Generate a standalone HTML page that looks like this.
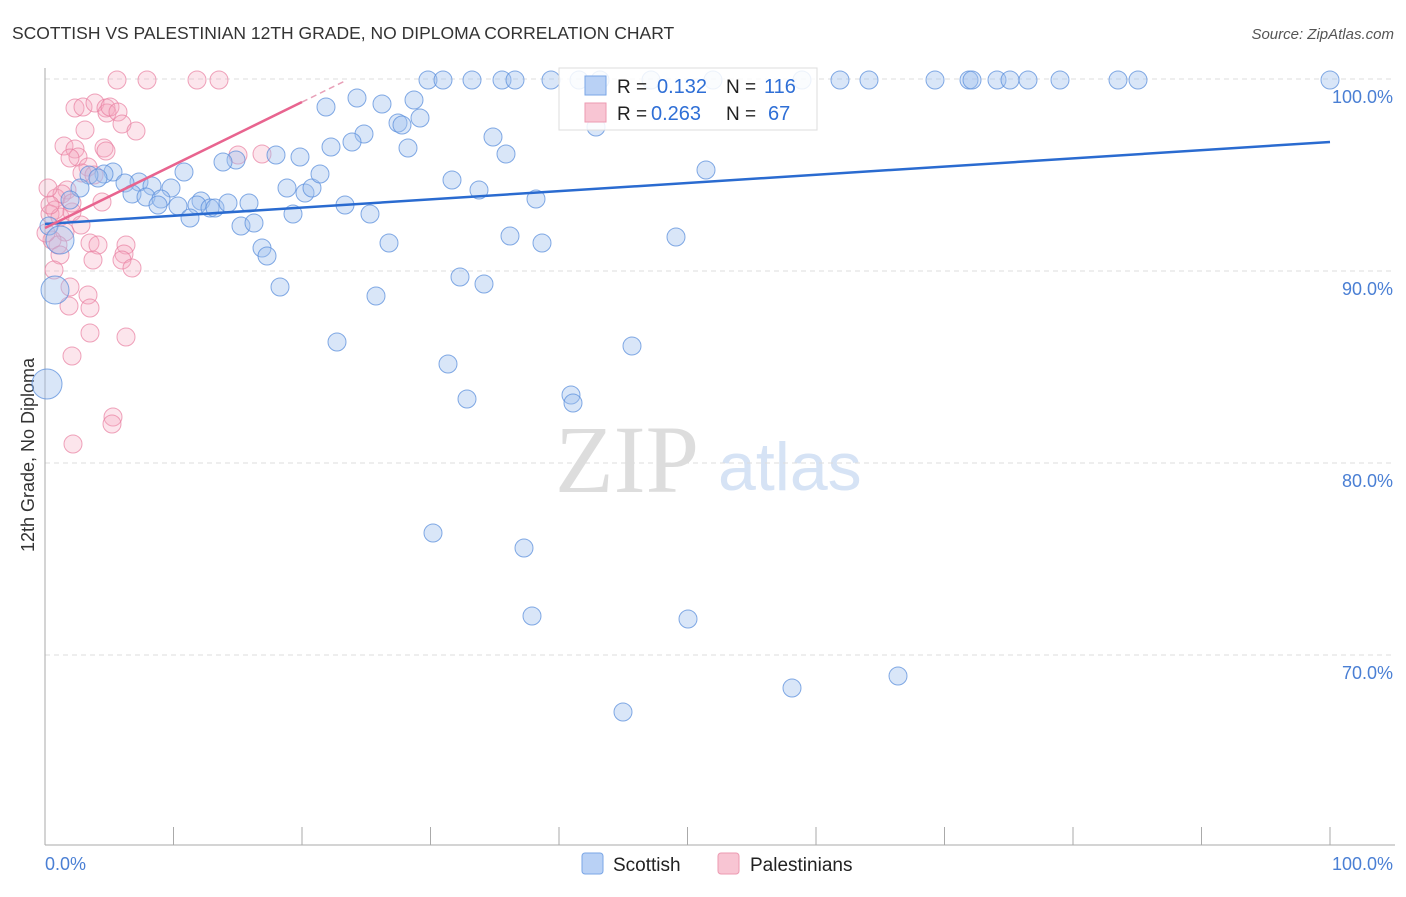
<!DOCTYPE html>
<html><head><meta charset="utf-8"><style>
body{margin:0;background:#fff;font-family:"Liberation Sans",sans-serif}
svg text{font-family:"Liberation Sans",sans-serif}
</style></head><body>
<svg id="c" width="1406" height="892" xmlns="http://www.w3.org/2000/svg">
<text x="12" y="39" font-size="17.5" fill="#333">SCOTTISH VS PALESTINIAN 12TH GRADE, NO DIPLOMA CORRELATION CHART</text>
<text x="1394" y="39" font-size="15" fill="#555" text-anchor="end" font-style="italic">Source: ZipAtlas.com</text>
<text x="34" y="455" font-size="18" fill="#333" text-anchor="middle" transform="rotate(-90 34 455)">12th Grade, No Diploma</text>
<text x="555" y="492" font-size="96" fill="#ddd" style="font-family:'Liberation Serif',serif">ZIP</text>
<text x="718" y="490" font-size="68" fill="#d6e3f5">atlas</text>
<g id="grid"></g><g id="pts"></g><g id="lines"></g>
<g>
<rect x="559" y="68" width="258" height="62" fill="#fff" fill-opacity="0.85" stroke="#ddd"/>
<rect x="585" y="76" width="21" height="19" fill="#b9d1f5" stroke="#7aa6e6"/>
<rect x="585" y="103" width="21" height="19" fill="#f8c5d3" stroke="#ec9ab2"/>
<text x="617" y="93" font-size="19" fill="#222">R =</text>
<text x="657" y="93" font-size="20" fill="#2f6fd6">0.132</text>
<text x="726" y="93" font-size="19" fill="#222">N =</text>
<text x="764" y="93" font-size="20" fill="#2f6fd6">116</text>
<text x="617" y="120" font-size="19" fill="#222">R =</text>
<text x="651" y="120" font-size="20" fill="#2f6fd6">0.263</text>
<text x="726" y="120" font-size="19" fill="#222">N =</text>
<text x="768" y="120" font-size="20" fill="#2f6fd6">67</text>
</g>
<g>
<rect x="582" y="853" width="21" height="21" rx="3" fill="#b9d1f5" stroke="#7aa6e6"/>
<text x="613" y="871" font-size="19" fill="#222">Scottish</text>
<rect x="718" y="853" width="21" height="21" rx="3" fill="#f8c5d3" stroke="#ec9ab2"/>
<text x="750" y="871" font-size="19" fill="#222">Palestinians</text>
</g>
</svg>
<script>
const yTicks=[100,90,80,70];
const yTickLabels=["100.0%","90.0%","80.0%","70.0%"];
const xTicks=[0,10,20,30,40,50,60,70,80,90,100];
const bluePx=[[428,80],[443,80],[472,80],[502,80],[515,80],[551,80],[579,80],[600,80],[651,80],[713,80],[802,80],[840,80],[869,80],[935,80],[969,80],[972,80],[997,80],[1010,80],[1028,80],[1060,80],[1118,80],[1138,80],[1330,80],[326,107],[357,98],[382,104],[414,100],[398,123],[402,125],[420,118],[364,134],[352,142],[331,147],[408,148],[493,137],[506,154],[596,127],[706,170],[300,157],[276,155],[236,160],[223,162],[184,172],[113,172],[104,174],[89,175],[98,178],[139,182],[125,183],[152,186],[171,188],[132,194],[146,197],[161,199],[158,205],[178,206],[201,201],[197,205],[210,208],[215,208],[228,203],[249,203],[190,218],[241,226],[254,223],[287,188],[305,193],[312,188],[320,174],[293,214],[345,205],[370,214],[452,180],[479,190],[536,199],[262,248],[267,256],[280,287],[389,243],[376,296],[510,236],[542,243],[676,237],[460,277],[484,284],[337,342],[448,364],[467,399],[571,395],[573,403],[632,346],[433,533],[524,548],[532,616],[688,619],[623,712],[792,688],[898,676],[49,226],[80,188],[70,200]];
const bigBluePx=[[47,384,15],[55,290,14],[60,240,14]];
const pinkPx=[[117,80],[147,80],[197,80],[219,80],[75,108],[83,107],[95,103],[106,108],[107,113],[110,107],[118,112],[122,124],[136,131],[85,130],[64,146],[75,149],[78,157],[70,158],[104,148],[106,151],[238,155],[262,154],[88,167],[82,173],[94,175],[67,190],[56,198],[62,194],[55,210],[50,214],[60,217],[72,212],[81,225],[72,203],[65,232],[52,240],[58,245],[90,243],[98,245],[126,245],[124,254],[122,260],[93,260],[132,268],[60,255],[88,295],[70,287],[90,308],[69,306],[126,337],[90,333],[72,356],[113,417],[112,424],[73,444],[102,202],[54,270],[46,233],[50,205],[48,188]];
const toX=p=>(p-45)/12.85, toY=p=>100-(p-79)/19.2;
const blueX=bluePx.map(p=>toX(p[0])), blueY=bluePx.map(p=>toY(p[1]));
const pinkX=pinkPx.map(p=>toX(p[0])), pinkY=pinkPx.map(p=>toY(p[1]));
const blueTrend=[92.45,96.72];
const pinkTrend=[92.24,0.328];
const X=v=>45+v*12.85, Y=v=>79+(100-v)*19.2;
const NS="http://www.w3.org/2000/svg";
function mk(t,a,parent){const e=document.createElementNS(NS,t);for(const k in a)e.setAttribute(k,a[k]);document.getElementById(parent).appendChild(e);return e;}
yTicks.forEach((t,i)=>{
 const l=mk('line',{x1:45,x2:1395,y1:Y(t),y2:Y(t),stroke:'#ddd','stroke-dasharray':'5,4'},'grid');
 
 
 const tx=mk('text',{x:1393,y:Y(t)+24,'font-size':18,fill:'#4a7fd4','text-anchor':'end'},'grid');
 tx.textContent=yTickLabels[i];
 
 
});
let ax=mk('line',{x1:45,x2:45,y1:68,y2:845,stroke:'#aaa'},'grid');


ax=mk('line',{x1:45,x2:1395,y1:845,y2:845,stroke:'#aaa'},'grid');


xTicks.forEach(t=>{
 const l=mk('line',{x1:X(t),x2:X(t),y1:827,y2:845,stroke:'#aaa'},'grid');
 
 
});
let t1=mk('text',{x:45,y:870,'font-size':18,fill:'#4a7fd4'},'grid');t1.textContent='0.0%';


let t2=mk('text',{x:1393,y:870,'font-size':18,fill:'#4a7fd4','text-anchor':'end'},'grid');t2.textContent='100.0%';


pinkX.forEach((x,i)=>{
 const c=mk('circle',{cx:X(x),cy:Y(pinkY[i]),r:9,fill:'#f5a9bf','fill-opacity':0.3,stroke:'#e87ea0','stroke-opacity':0.7},'pts');
 
 
});
blueX.forEach((x,i)=>{
 const c=mk('circle',{cx:X(x),cy:Y(blueY[i]),r:9,fill:'#9fc0ee','fill-opacity':0.4,stroke:'#5b8fdc','stroke-opacity':0.75},'pts');
 
 
});
bigBluePx.forEach(p=>{
 const c=mk('circle',{cx:p[0],cy:p[1],r:p[2],fill:'#9fc0ee','fill-opacity':0.4,stroke:'#5b8fdc','stroke-opacity':0.75},'pts');
 
 
});
let bl=mk('line',{x1:X(0),y1:Y(blueTrend[0]),x2:X(100),y2:Y(blueTrend[1]),stroke:'#2a6bd0','stroke-width':2.5},'lines');


let pl=mk('line',{x1:X(0),y1:Y(pinkTrend[0]),x2:X(20),y2:Y(pinkTrend[0]+20*pinkTrend[1]),stroke:'#e8648f','stroke-width':2.5},'lines');


let pd=mk('line',{x1:X(20),y1:Y(pinkTrend[0]+20*pinkTrend[1]),x2:X(23.4),y2:Y(pinkTrend[0]+23.4*pinkTrend[1]),stroke:'#e8a0b8','stroke-width':1.5,'stroke-dasharray':'6,4'},'lines');


</script>
</body></html>
